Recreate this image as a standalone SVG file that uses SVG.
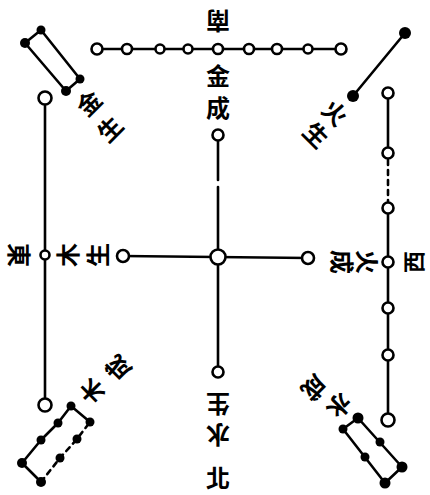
<svg xmlns="http://www.w3.org/2000/svg" width="430" height="495" viewBox="0 0 430 495">
<style>
.ln{stroke:#000;stroke-width:2.6;fill:none;stroke-linecap:round;stroke-linejoin:round}
.dash{stroke-dasharray:5 5}
.o{fill:#fff;stroke:#000;stroke-width:2.6}
.b{fill:#000}
.t{font-family:"Noto Sans CJK TC","Noto Sans CJK SC",sans-serif;font-weight:bold;font-size:24px;text-anchor:middle;dominant-baseline:central;fill:#000}
</style>
<rect width="430" height="495" fill="#fff"/>
<g id="connectors">
<line class="ln" x1="97" y1="49" x2="341" y2="49"/>
<line class="ln" x1="123" y1="256" x2="308" y2="258"/>
<line class="ln" x1="218" y1="135" x2="218" y2="180"/>
<line class="ln" x1="218" y1="187" x2="218" y2="372"/>
<line class="ln" x1="45" y1="98" x2="45" y2="405"/>
<line class="ln" x1="388" y1="93" x2="388" y2="153"/>
<line class="ln dash" x1="388" y1="160" x2="388" y2="202"/>
<line class="ln" x1="388" y1="208" x2="388" y2="420"/>
<polygon class="ln" points="25,43 41,30 80,79 66,91"/>
<line class="ln" x1="405" y1="33" x2="353" y2="96"/>
<polyline class="ln" points="71,406 58,423 41,440 22,463 41,482"/>
<polyline class="ln dash" points="41,482 60,458 77,439 90,422"/>
<line class="ln" x1="90" y1="422" x2="71" y2="406"/>
<polygon class="ln" points="358,418 402,467 385,483 343,429"/>
</g>
<g id="south">
<circle class="o" cx="97" cy="49" r="5.5"/>
<circle class="o" cx="127" cy="49" r="5"/>
<circle class="o" cx="160" cy="49" r="4.5"/>
<circle class="o" cx="188" cy="49" r="4.5"/>
<circle class="o" cx="218" cy="49" r="5"/>
<circle class="o" cx="249" cy="49" r="5"/>
<circle class="o" cx="277" cy="49" r="5"/>
<circle class="o" cx="308" cy="49" r="4.5"/>
<circle class="o" cx="341" cy="49" r="5.5"/>
<text class="t" transform="translate(218,22) rotate(180)">南</text>
<text class="t" x="218" y="74">金</text>
<text class="t" x="218" y="106">成</text>
</g>
<g id="center">
<circle class="o" cx="218" cy="257" r="7.5"/>
<circle class="o" cx="123" cy="256" r="6"/>
<circle class="o" cx="308" cy="258" r="6"/>
<circle class="o" cx="218" cy="135" r="5.5"/>
<circle class="o" cx="218" cy="372" r="5.5"/>
</g>
<g id="east">
<circle class="o" cx="45" cy="98" r="6.5"/>
<circle class="o" cx="45" cy="255" r="4.5"/>
<circle class="o" cx="45" cy="405" r="6.5"/>
<text class="t" transform="translate(20,255) rotate(90)">東</text>
<text class="t" transform="translate(66,255) rotate(-90)">木</text>
<text class="t" transform="translate(96,255) rotate(-90)">生</text>
</g>
<g id="west">
<circle class="o" cx="388" cy="93" r="5.5"/>
<circle class="o" cx="388" cy="153" r="5.5"/>
<circle class="o" cx="388" cy="208" r="5.5"/>
<circle class="o" cx="388" cy="262" r="5.5"/>
<circle class="o" cx="388" cy="308" r="5.5"/>
<circle class="o" cx="388" cy="355" r="5.5"/>
<circle class="o" cx="388" cy="420" r="6.5"/>
<text class="t" transform="translate(412,262) rotate(-90)" style="font-size:22px">西</text>
<text class="t" transform="translate(368,262) rotate(90)">火</text>
<text class="t" transform="translate(343,262) rotate(90)">成</text>
</g>
<g id="north">
<text class="t" transform="translate(218,405) rotate(180)">生</text>
<text class="t" transform="translate(218,436) rotate(180)">水</text>
<text class="t" x="218" y="476">北</text>
</g>
<g id="northwest">
<circle class="b" cx="25" cy="43" r="5"/>
<circle class="b" cx="41" cy="30" r="4.5"/>
<circle class="b" cx="80" cy="79" r="4.5"/>
<circle class="b" cx="66" cy="91" r="5"/>
<text class="t" transform="translate(88,102) rotate(-45)">金</text>
<text class="t" transform="translate(109,128) rotate(-45)">生</text>
</g>
<g id="northeast">
<circle class="b" cx="405" cy="33" r="6"/>
<circle class="b" cx="353" cy="96" r="6"/>
<text class="t" transform="translate(336,112) rotate(45)">火</text>
<text class="t" transform="translate(317,134) rotate(45)">生</text>
</g>
<g id="southwest">
<circle class="b" cx="71" cy="406" r="4.5"/>
<circle class="b" cx="58" cy="423" r="4.5"/>
<circle class="b" cx="41" cy="440" r="4.5"/>
<circle class="b" cx="22" cy="463" r="5"/>
<circle class="b" cx="41" cy="482" r="5"/>
<circle class="b" cx="60" cy="458" r="4.5"/>
<circle class="b" cx="77" cy="439" r="4.5"/>
<circle class="b" cx="90" cy="422" r="4.5"/>
<text class="t" transform="translate(91,392) rotate(-135)">木</text>
<text class="t" transform="translate(117,369) rotate(-135)">成</text>
</g>
<g id="southeast">
<circle class="b" cx="358" cy="418" r="5.5"/>
<circle class="b" cx="343" cy="429" r="4.5"/>
<circle class="b" cx="380" cy="442" r="4.5"/>
<circle class="b" cx="365" cy="457" r="4.5"/>
<circle class="b" cx="402" cy="467" r="5.5"/>
<circle class="b" cx="385" cy="483" r="5.5"/>
<text class="t" transform="translate(340,407) rotate(135)">水</text>
<text class="t" transform="translate(315,389) rotate(135)">成</text>
</g>
</svg>
